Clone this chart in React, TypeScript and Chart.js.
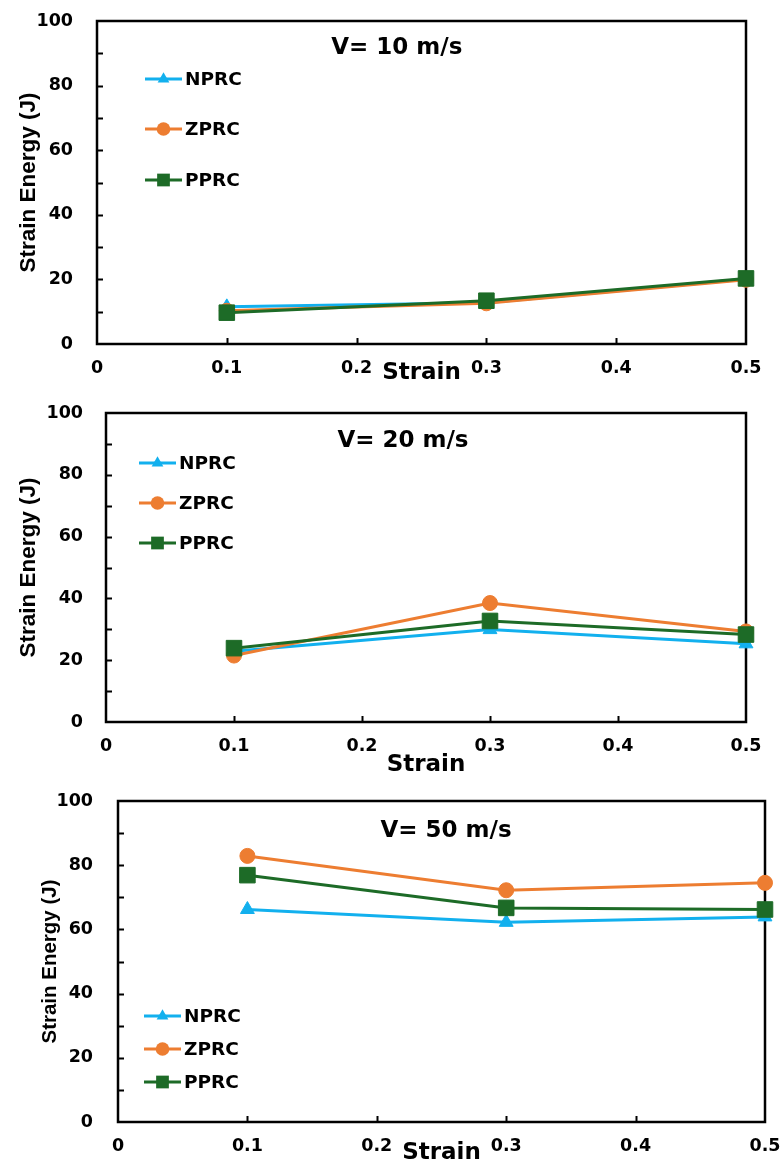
import React, { useEffect, useRef } from 'react';
import { Chart, registerables } from 'chart.js';

Chart.register(...registerables);

// ---------- data ----------
const strainValues = [0.1, 0.3, 0.5];
const seriesNames = ['NPRC', 'ZPRC', 'PPRC'];

const v10NPRC = [11.5, 12.8, 20.1];
const v10ZPRC = [10.3, 12.6, 19.9];
const v10PPRC = [9.7, 13.4, 20.3];

const v20NPRC = [22.9, 29.9, 25.3];
const v20ZPRC = [21.5, 38.5, 29.3];
const v20PPRC = [23.9, 32.7, 28.3];

const v50NPRC = [66.2, 62.2, 63.9];
const v50ZPRC = [82.9, 72.2, 74.5];
const v50PPRC = [76.9, 66.7, 66.2];

const panelTitles = ['V= 10 m/s', 'V= 20 m/s', 'V= 50 m/s'];
const xAxisTitle = 'Strain';
const yAxisTitle = 'Strain Energy (J)';
const yMin = 0;
const yMax = 100;
const yStep = 10;
const xMin = 0;
const xMax = 0.5;
const xStep = 0.1;

// ---------- styles ----------
const seriesColors = ['#12B0EE', '#ED7D31', '#1D6B27'];
const seriesPointStyles = ['triangle', 'circle', 'rect'];
const seriesPointRadius = [8, 7.5, 11];
const seriesOrder = [3, 2, 1];

const FONT_MAIN = "'DejaVu Sans', sans-serif";
const FONT_YTITLE = "'Liberation Sans', Arial, sans-serif";

type Layout = {
  top: number;
  height: number;
  padTop: number;
  padRight: number;
  yWidth: number;
  xHeight: number;
  yTickPad: number;
  yTitlePad: number;
  yTitleSize: number;
  xTitlePadBottom: number;
  titleX: number; // fraction of plot width
  titleY: number; // px below plot top
  legendDx: number;
  legendDy: number[];
};

const layouts: Layout[] = [
  { top: 0, height: 390, padTop: 21, padRight: 37, yWidth: 97, xHeight: 46, yTickPad: 24, yTitlePad: 15, yTitleSize: 22.5, xTitlePadBottom: 3, titleX: 0.462, titleY: 27, legendDx: 48, legendDy: [58, 108, 159] },
  { top: 390, height: 390, padTop: 23, padRight: 37, yWidth: 106, xHeight: 58, yTickPad: 23, yTitlePad: 15, yTitleSize: 22.5, xTitlePadBottom: 1, titleX: 0.464, titleY: 28, legendDx: 33, legendDy: [50, 90, 130] },
  { top: 780, height: 383, padTop: 21, padRight: 18, yWidth: 118, xHeight: 41, yTickPad: 25, yTitlePad: 38, yTitleSize: 20.5, xTitlePadBottom: -4, titleX: 0.507, titleY: 30, legendDx: 26, legendDy: [215, 248, 281] },
];

const panelSeries = [
  [v10NPRC, v10ZPRC, v10PPRC],
  [v20NPRC, v20ZPRC, v20PPRC],
  [v50NPRC, v50ZPRC, v50PPRC],
];

function drawMarker(ctx: CanvasRenderingContext2D, style: string, x: number, y: number, r: number, color: string) {
  ctx.save();
  ctx.fillStyle = color;
  ctx.beginPath();
  if (style === 'triangle') {
    const h = r * 1.5;
    const w = r * Math.sqrt(3);
    ctx.moveTo(x, y - r);
    ctx.lineTo(x + w / 2, y - r + h);
    ctx.lineTo(x - w / 2, y - r + h);
    ctx.closePath();
  } else if (style === 'circle') {
    ctx.arc(x, y, r, 0, Math.PI * 2);
  } else {
    const s = r * Math.SQRT1_2;
    ctx.rect(x - s, y - s, 2 * s, 2 * s);
  }
  ctx.fill();
  ctx.restore();
}

function makeChart(canvas: HTMLCanvasElement, idx: number): Chart {
  const L = layouts[idx];
  const series = panelSeries[idx];

  const frame = {
    id: 'frameTicks' + idx,
    beforeDatasetsDraw(chart: any) {
      const { ctx, chartArea: a, scales } = chart;
      const x = scales.x;
      const y = scales.y;
      ctx.save();
      ctx.strokeStyle = '#000';
      ctx.lineWidth = 2;
      ctx.beginPath();
      y.ticks.forEach((t: any) => {
        if (t.value > yMin + 1e-6 && t.value < yMax - 1e-6) {
          const py = Math.round(y.getPixelForValue(t.value)) + 0.5;
          ctx.moveTo(a.left, py);
          ctx.lineTo(a.left + 6, py);
        }
      });
      x.ticks.forEach((t: any) => {
        if (t.value > xMin + 1e-6 && t.value < xMax - 1e-6) {
          const px = Math.round(x.getPixelForValue(t.value)) + 0.5;
          ctx.moveTo(px, a.bottom);
          ctx.lineTo(px, a.bottom - 6);
        }
      });
      ctx.stroke();
      ctx.lineWidth = 2.5;
      ctx.strokeRect(a.left, a.top, a.right - a.left, a.bottom - a.top);
      ctx.restore();
    },
  };

  const overlay = {
    id: 'overlay' + idx,
    afterDatasetsDraw(chart: any) {
      const { ctx, chartArea: a } = chart;
      ctx.save();
      // panel title
      ctx.fillStyle = '#000';
      ctx.font = `bold 23px ${FONT_MAIN}`;
      ctx.textAlign = 'center';
      ctx.textBaseline = 'middle';
      ctx.fillText(panelTitles[idx], a.left + (a.right - a.left) * L.titleX, a.top + L.titleY);
      // legend
      const lx = a.left + L.legendDx;
      seriesNames.forEach((name, i) => {
        const ly = a.top + L.legendDy[i];
        ctx.strokeStyle = seriesColors[i];
        ctx.lineWidth = 3;
        ctx.beginPath();
        ctx.moveTo(lx, ly);
        ctx.lineTo(lx + 37, ly);
        ctx.stroke();
        const r = seriesPointStyles[i] === 'rect' ? 9 : 6.8;
        drawMarker(ctx, seriesPointStyles[i], lx + 18.5, ly, r, seriesColors[i]);
        ctx.fillStyle = '#000';
        ctx.font = `bold 18.5px ${FONT_MAIN}`;
        ctx.textAlign = 'left';
        ctx.textBaseline = 'middle';
        ctx.fillText(name, lx + 40, ly + 1);
      });
      ctx.restore();
    },
  };

  return new Chart(canvas, {
    type: 'line',
    data: {
      datasets: seriesNames.map((name, i) => ({
        label: name,
        data: strainValues.map((sx, j) => ({ x: sx, y: series[i][j] })),
        borderColor: seriesColors[i],
        backgroundColor: seriesColors[i],
        pointBackgroundColor: seriesColors[i],
        pointBorderColor: seriesColors[i],
        pointBorderWidth: 1,
        pointStyle: seriesPointStyles[i] as any,
        pointRadius: seriesPointRadius[i],
        borderWidth: 3,
        tension: 0,
        order: seriesOrder[i],
        clip: false as any,
      })),
    },
    options: {
      animation: false,
      responsive: false,
      maintainAspectRatio: false,
      devicePixelRatio: 1,
      layout: { padding: { top: L.padTop, right: L.padRight, left: 0, bottom: 0 } },
      plugins: {
        legend: { display: false },
        title: { display: false },
        tooltip: { enabled: false },
      },
      scales: {
        x: {
          type: 'linear',
          min: xMin,
          max: xMax,
          grid: { display: false, drawTicks: false },
          border: { display: false },
          ticks: {
            stepSize: xStep,
            autoSkip: false,
            maxRotation: 0,
            padding: 14,
            color: '#000',
            font: { family: FONT_MAIN, weight: 'bold', size: 17.5 },
            callback: (v: any) => (Math.abs(Number(v)) < 1e-9 ? '0' : Number(v).toFixed(1)),
          },
          title: {
            display: true,
            text: xAxisTitle,
            color: '#000',
            font: { family: FONT_MAIN, weight: 'bold', size: 23 },
            padding: { top: 0, bottom: L.xTitlePadBottom },
          },
          afterFit: (s: any) => {
            s.height = L.xHeight;
            s.paddingLeft = 0;
            s.paddingRight = 0;
            s.paddingTop = 0;
            s.paddingBottom = 0;
          },
        },
        y: {
          type: 'linear',
          min: yMin,
          max: yMax,
          grid: { display: false, drawTicks: false },
          border: { display: false },
          ticks: {
            stepSize: yStep,
            autoSkip: false,
            padding: L.yTickPad,
            color: '#000',
            font: { family: FONT_MAIN, weight: 'bold', size: 17.5 },
            callback: (v: any) => (Math.round(Number(v)) % 20 === 0 ? String(Math.round(Number(v))) : ''),
          },
          title: {
            display: true,
            text: yAxisTitle,
            color: '#000',
            font: { family: FONT_YTITLE, weight: 'bold', size: L.yTitleSize },
            padding: { top: L.yTitlePad, bottom: 0 },
          },
          afterFit: (s: any) => {
            s.width = L.yWidth;
            s.paddingLeft = 0;
            s.paddingRight = 0;
            s.paddingTop = 0;
            s.paddingBottom = 0;
          },
        },
      },
    } as any,
    plugins: [frame, overlay],
  });
}

export default function App() {
  const r0 = useRef<HTMLCanvasElement | null>(null);
  const r1 = useRef<HTMLCanvasElement | null>(null);
  const r2 = useRef<HTMLCanvasElement | null>(null);

  useEffect(() => {
    const refs = [r0, r1, r2];
    const charts = refs.map((r, i) => makeChart(r.current as HTMLCanvasElement, i));
    return () => charts.forEach((c) => c.destroy());
  }, []);

  const refs = [r0, r1, r2];
  return (
    <div style={{ position: 'absolute', left: 0, top: 0, width: 783, height: 1163, background: '#fff', overflow: 'hidden' }}>
      {layouts.map((L, i) => (
        <canvas
          key={i}
          ref={refs[i]}
          width={783}
          height={L.height}
          style={{ position: 'absolute', left: 0, top: L.top, width: 783, height: L.height }}
        />
      ))}
    </div>
  );
}
